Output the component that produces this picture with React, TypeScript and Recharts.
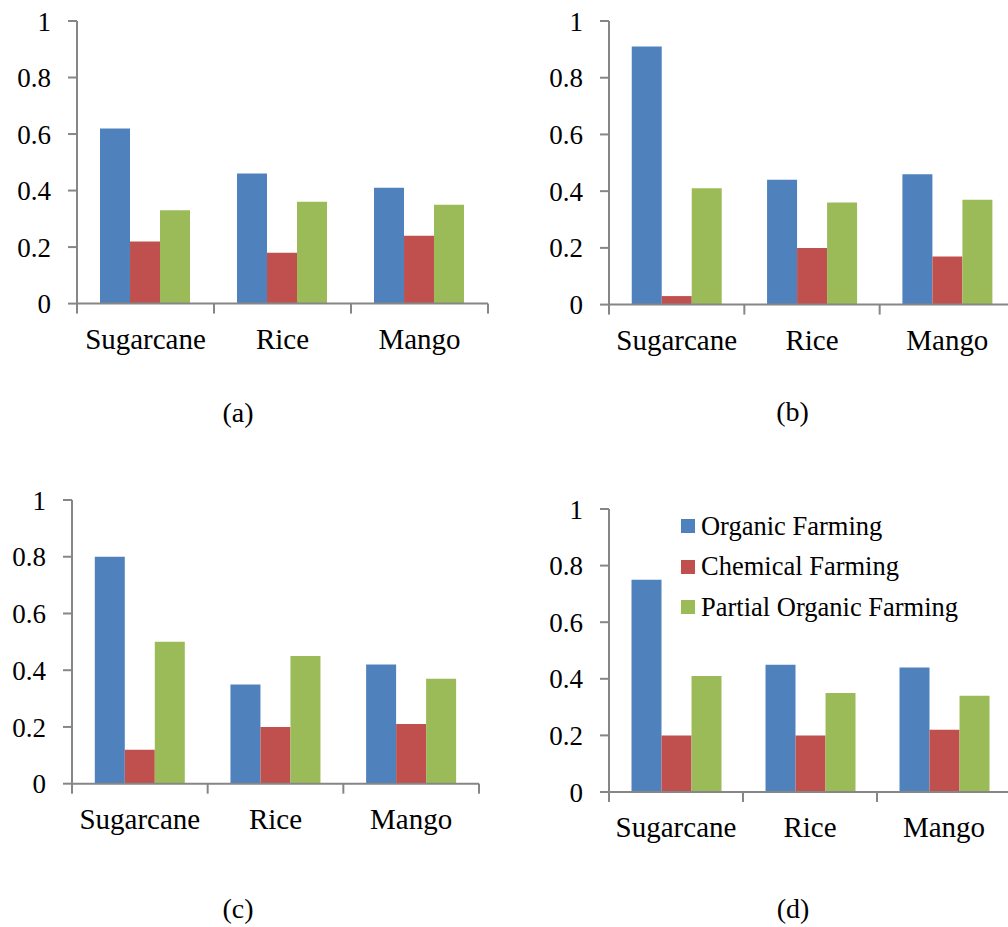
import * as React from 'react';
import { BarChart, Bar, XAxis, YAxis, Legend } from 'recharts';

const categories = ['Sugarcane', 'Rice', 'Mango'];
const seriesNames = ['Organic Farming', 'Chemical Farming', 'Partial Organic Farming'];
const yTicks = [0, 0.2, 0.4, 0.6, 0.8, 1];

// (a)
const organicA = [0.62, 0.46, 0.41];
const chemicalA = [0.22, 0.18, 0.24];
const partialA = [0.33, 0.36, 0.35];
// (b)
const organicB = [0.91, 0.44, 0.46];
const chemicalB = [0.03, 0.2, 0.17];
const partialB = [0.41, 0.36, 0.37];
// (c)
const organicC = [0.8, 0.35, 0.42];
const chemicalC = [0.12, 0.2, 0.21];
const partialC = [0.5, 0.45, 0.37];
// (d)
const organicD = [0.75, 0.45, 0.44];
const chemicalD = [0.2, 0.2, 0.22];
const partialD = [0.41, 0.35, 0.34];

const COLORS = ['#4F81BD', '#C0504D', '#9BBB59'];
const AXIS_GRAY = '#868686';
const FONT = "Liberation Serif, DejaVu Serif, Times New Roman, Times, serif";
const Y_W = 80; // y axis area width
const PAD_TOP = 30;
const X_H = 60;
const TICK_MARGIN = 20;

const makeRows = (organic: number[], chemical: number[], partial: number[]) =>
    categories.map((c, i) => ({ name: c, organic: organic[i], chemical: chemical[i], partial: partial[i] }));

// plot area geometry of each panel (left/top of plot, plot size) + caption position
const panels = [
    { rows: makeRows(organicA, chemicalA, partialA), left: 76.7, top: 20.7, w: 411, h: 282.6, label: '(a)', lx: 238, ly: 422, legend: false },
    { rows: makeRows(organicB, chemicalB, partialB), left: 609.3, top: 20.7, w: 406, h: 283.6, label: '(b)', lx: 792.5, ly: 421, legend: false },
    { rows: makeRows(organicC, chemicalC, partialC), left: 72, top: 500, w: 407, h: 283.7, label: '(c)', lx: 238, ly: 918, legend: false },
    { rows: makeRows(organicD, chemicalD, partialD), left: 608.7, top: 509, w: 402, h: 283, label: '(d)', lx: 793, ly: 918, legend: true },
];

const CategoryTick = (props: any) => {
    const { x, y, payload, index, bandWidth } = props;
    const axisY = y - TICK_MARGIN;
    return (
        <g>
            <line x1={x - bandWidth / 2} y1={axisY} x2={x - bandWidth / 2} y2={axisY + 10} stroke={AXIS_GRAY} strokeWidth={2} />
            {index === categories.length - 1 &&
                <line x1={x + bandWidth / 2} y1={axisY} x2={x + bandWidth / 2} y2={axisY + 10} stroke={AXIS_GRAY} strokeWidth={2} />}
            <text x={x} y={axisY + 45} textAnchor="middle" fill="#000" fontSize={29} fontFamily={FONT}>{payload.value}</text>
        </g>
    );
};

const renderLegend = (props: any) => {
    const items = [...(props.payload || [])].sort(
        (a: any, b: any) => seriesNames.indexOf(a.value) - seriesNames.indexOf(b.value));
    return (
        <div style={{ fontFamily: FONT, fontSize: 26.5, color: '#000' }}>
            {items.map((entry: any) => (
                <div key={entry.value} style={{ display: 'flex', alignItems: 'center', height: 40.6, lineHeight: '40.6px', whiteSpace: 'nowrap' }}>
                    <span style={{ display: 'inline-block', width: 14, height: 14, background: entry.color, marginRight: 6 }} />
                    <span>{entry.value}</span>
                </div>
            ))}
        </div>
    );
};

export default () => {
    return (
        <div style={{ position: 'absolute', left: 0, top: 0, width: 1008, height: 927, overflow: 'hidden', background: '#fff', fontFamily: FONT }}>
            {panels.map((p) => {
                const chartLeft = p.left - Y_W;
                const chartTop = p.top - PAD_TOP;
                return (
                    <div key={p.label} style={{ position: 'absolute', left: chartLeft, top: chartTop }}>
                        <BarChart
                            width={Y_W + p.w + 10}
                            height={PAD_TOP + p.h + X_H}
                            data={p.rows}
                            margin={{ top: PAD_TOP, right: 10, bottom: 0, left: 0 }}
                            barCategoryGap="16.8%"
                            barGap={0}
                            style={{ fontFamily: FONT }}
                        >
                            <XAxis
                                dataKey="name"
                                height={X_H}
                                axisLine={{ stroke: AXIS_GRAY, strokeWidth: 2 }}
                                tickLine={false}
                                tickSize={0}
                                tickMargin={TICK_MARGIN}
                                interval={0}
                                tick={<CategoryTick bandWidth={p.w / categories.length} />}
                            />
                            <XAxis xAxisId="top" dataKey="name" orientation="top" height={0} tick={false} tickLine={false}
                                axisLine={{ stroke: '#000', strokeWidth: 2 }} />
                            <YAxis
                                width={Y_W}
                                domain={[0, 1]}
                                ticks={yTicks}
                                interval={0}
                                tickFormatter={(v: number) => String(v)}
                                axisLine={{ stroke: AXIS_GRAY, strokeWidth: 2 }}
                                tickLine={{ stroke: AXIS_GRAY, strokeWidth: 2 }}
                                tickSize={9}
                                tickMargin={17}
                                tick={{ fill: '#000', fontSize: 27, fontFamily: FONT }}
                            />
                            <YAxis yAxisId="right" orientation="right" width={0} domain={[0, 1]} tick={false} tickLine={false}
                                axisLine={{ stroke: '#000', strokeWidth: 2 }} />
                            <Bar dataKey="organic" name={seriesNames[0]} fill={COLORS[0]} isAnimationActive={false} />
                            <Bar dataKey="chemical" name={seriesNames[1]} fill={COLORS[1]} isAnimationActive={false} />
                            <Bar dataKey="partial" name={seriesNames[2]} fill={COLORS[2]} isAnimationActive={false} />
                            {p.legend &&
                                <Legend
                                    layout="vertical"
                                    align="center"
                                    verticalAlign="middle"
                                    content={renderLegend}
                                    wrapperStyle={{ left: 681 - chartLeft, top: 526 - 20.3 - chartTop, width: 320 }}
                                />}
                        </BarChart>
                    </div>
                );
            })}
            <svg width={1008} height={927} style={{ position: 'absolute', left: 0, top: 0, pointerEvents: 'none' }}>
                {panels.map((p) => (
                    <text key={p.label} x={p.lx} y={p.ly} textAnchor="middle" fontSize={28} fontFamily={FONT} fill="#000">{p.label}</text>
                ))}
            </svg>
        </div>
    );
}
